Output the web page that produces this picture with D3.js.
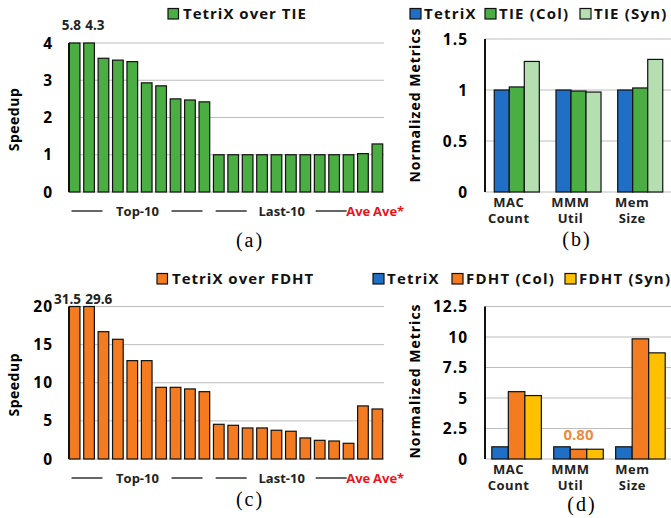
<!DOCTYPE html>
<html>
<head>
<meta charset="utf-8">
<script src="https://cdn.jsdelivr.net/npm/d3@7"></script>
<style>
  body { margin: 0; background: #fff; }
  text { font-family: "Open Sans", sans-serif; font-weight: bold; }
  .cap { font-family: "Liberation Serif", serif; font-weight: normal; letter-spacing: 2px; }
</style>
</head>
<body>
<svg id="chart" width="671" height="518"></svg>
<script>
// speedup data, 20 benchmarks (top-10, last-10) + Ave + Ave*
var tieSpeedup = [5.8, 4.3, 3.59, 3.54, 3.5, 2.93, 2.85, 2.5, 2.47, 2.42,
                  1.0, 1.0, 1.0, 1.0, 1.0, 1.0, 1.0, 1.0, 1.0, 1.0, 1.03, 1.29];
var fdhtSpeedup = [31.5, 29.6, 16.7, 15.7, 12.9, 12.9, 9.4, 9.4, 9.19, 8.83,
                   4.55, 4.42, 4.07, 4.07, 3.77, 3.64, 2.76, 2.45, 2.36, 2.06, 6.96, 6.56];
var tieTicks = [0, 1, 2, 3, 4];
var fdhtTicks = [0, 5, 10, 15, 20];

// normalized metrics
var metrics = ["MAC Count", "MMM Util", "Mem Size"];
var tieSeries = ["TetriX", "TIE (Col)", "TIE (Syn)"];
var tieMetrics = [[1.0, 1.03, 1.28], [1.0, 0.99, 0.98], [1.0, 1.02, 1.3]];
var fdhtSeries = ["TetriX", "FDHT (Col)", "FDHT (Syn)"];
var fdhtMetrics = [[1.0, 5.52, 5.2], [1.0, 0.8, 0.8], [1.0, 9.85, 8.7]];
var tieMetricTicks = [0, 0.5, 1, 1.5];
var fdhtMetricTicks = [0, 2.5, 5, 7.5, 10, 12.5];

var svg = d3.select("#chart");
var grid = "#bdbdbd";

function drawSpeedup(o) {
    var g = svg.append("g");
    var x = d3.scaleBand()
        .domain(d3.range(o.data.length))
        .range([69, 383])
        .paddingInner(0.26)
        .paddingOuter(0.02);
    var y = d3.scaleLinear()
        .domain([0, o.ticks[o.ticks.length - 1]])
        .range([o.base, o.top])
        .clamp(true);

    g.selectAll(".grid").data(o.ticks).enter().append("line")
        .attr("x1", 69).attr("x2", 384)
        .attr("y1", function (d) { return y(d); })
        .attr("y2", function (d) { return y(d); })
        .style("stroke", grid).style("stroke-width", 1);

    g.selectAll(".tick").data(o.ticks).enter().append("text")
        .attr("x", 53)
        .attr("y", function (d) { return y(d) + 5.5; })
        .attr("text-anchor", "end")
        .style("font-size", "15.5px")
        .style("letter-spacing", "1px")
        .text(function (d) { return d; });

    g.selectAll("rect").data(o.data).enter().append("rect")
        .attr("x", function (d, i) { return x(i); })
        .attr("y", function (d) { return y(d); })
        .attr("width", x.bandwidth())
        .attr("height", function (d) { return y(0) - y(d); })
        .style("fill", o.color)
        .style("stroke", "#111")
        .style("stroke-width", 1.2);

    g.append("line")
        .attr("x1", 69).attr("x2", 69)
        .attr("y1", y(0)).attr("y2", y.range()[1])
        .style("stroke", "#111").style("stroke-width", 2);

    // values of clipped bars
    g.append("text")
        .attr("x", x(0) + x.bandwidth() + 1)
        .attr("y", o.valY)
        .attr("text-anchor", "end")
        .style("font-size", "13.5px").style("fill", "#222")
        .text(o.data[0]);
    g.append("text")
        .attr("x", x(1) + 1.5)
        .attr("y", o.valY)
        .style("font-size", "13.5px").style("fill", "#222")
        .text(o.data[1]);

    g.append("text")
        .attr("transform", "translate(19," + ((o.base + o.top) / 2 + 2) + ") rotate(-90)")
        .attr("text-anchor", "middle")
        .style("font-size", "14px")
        .style("letter-spacing", "0.5px")
        .text("Speedup");

    // group labels under the bars
    var ly = o.base + 19;
    [["Top-10", 0, 9], ["Last-10", 10, 19]].forEach(function (grp) {
        var x0 = x(grp[1]), x1 = x(grp[2]) + x.bandwidth();
        var mid = (x0 + x1) / 2;
        g.append("line").attr("x1", mid - 68).attr("x2", mid - 37)
            .attr("y1", ly).attr("y2", ly)
            .style("stroke", "#333").style("stroke-width", 1.5);
        g.append("line").attr("x1", mid + 32).attr("x2", mid + 63)
            .attr("y1", ly).attr("y2", ly)
            .style("stroke", "#333").style("stroke-width", 1.5);
        g.append("text").attr("x", mid - 2).attr("y", ly + 5)
            .attr("text-anchor", "middle")
            .style("font-size", "13px")
            .style("fill", "#222")
            .text(grp[0]);
    });
    g.append("text").attr("x", x(20) + x.bandwidth() + 2).attr("y", ly + 5)
        .attr("text-anchor", "end")
        .style("font-size", "13px").style("fill", "#e8161b")
        .text("Ave");
    g.append("text").attr("x", x(21) + 1).attr("y", ly + 5)
        .style("font-size", "13px").style("fill", "#e8161b")
        .text("Ave*");

    // legend title
    g.append("rect").attr("x", o.legX).attr("y", o.legY - 10.5)
        .attr("width", 10.5).attr("height", 10.5)
        .style("fill", o.color).style("stroke", "#111").style("stroke-width", 1.2);
    g.append("text").attr("x", o.legX + 15).attr("y", o.legY)
        .style("font-size", "15px").style("fill", "#111")
        .style("letter-spacing", "1px")
        .text(o.title);

    g.append("text").attr("class", "cap")
        .attr("x", 250).attr("y", o.capY)
        .attr("text-anchor", "middle")
        .style("font-size", "20px")
        .text(o.cap);
}

function drawMetrics(o) {
    var g = svg.append("g");
    var x0 = d3.scaleBand()
        .domain(metrics)
        .range([485, 672])
        .paddingInner(o.padIn)
        .paddingOuter(o.padOut);
    var x1 = d3.scaleBand()
        .domain(o.series)
        .range([0, x0.bandwidth()]);
    var y = d3.scaleLinear()
        .domain([0, o.ticks[o.ticks.length - 1]])
        .range([o.base, o.top]);

    g.selectAll(".grid").data(o.ticks).enter().append("line")
        .attr("x1", 485).attr("x2", 671)
        .attr("y1", function (d) { return y(d); })
        .attr("y2", function (d) { return y(d); })
        .style("stroke", grid).style("stroke-width", 1);

    g.selectAll(".tick").data(o.ticks).enter().append("text")
        .attr("x", 468)
        .attr("y", function (d) { return y(d) + 5.5; })
        .attr("text-anchor", "end")
        .style("font-size", "15.5px")
        .style("letter-spacing", "1px")
        .text(function (d) { return d; });

    var groups = g.selectAll(".grp").data(o.values).enter().append("g")
        .attr("transform", function (d, i) { return "translate(" + x0(metrics[i]) + ",0)"; });
    groups.selectAll("rect").data(function (d) { return d; }).enter().append("rect")
        .attr("x", function (d, j) { return x1(o.series[j]); })
        .attr("y", function (d) { return y(d); })
        .attr("width", x1.bandwidth())
        .attr("height", function (d) { return y(0) - y(d); })
        .style("fill", function (d, j) { return o.colors[j]; })
        .style("stroke", "#111")
        .style("stroke-width", 1.2);

    g.append("line")
        .attr("x1", 485).attr("x2", 485)
        .attr("y1", y(0)).attr("y2", y.range()[1])
        .style("stroke", "#111").style("stroke-width", 2);

    metrics.forEach(function (m) {
        var parts = m.split(" ");
        var cx = x0(m) + x0.bandwidth() / 2 - 8;
        parts.forEach(function (p, k) {
            g.append("text").attr("x", cx).attr("y", o.base + 14.5 + k * 16.5)
                .attr("text-anchor", "middle")
                .style("font-size", "13px").style("fill", "#222")
                .style("letter-spacing", "0.5px")
                .text(p);
        });
    });

    g.append("text")
        .attr("transform", "translate(420," + o.labY + ") rotate(-90)")
        .attr("text-anchor", "middle")
        .style("font-size", "14px")
        .style("letter-spacing", "1px")
        .text("Normalized Metrics");

    // legend
    o.series.forEach(function (s, j) {
        g.append("rect").attr("x", o.legX[j]).attr("y", o.legY - 10.5)
            .attr("width", 11).attr("height", 10.5)
            .style("fill", o.colors[j]).style("stroke", "#111").style("stroke-width", 1.2);
        g.append("text").attr("x", o.legX[j] + 14).attr("y", o.legY)
            .style("font-size", "15px").style("fill", "#111")
            .style("letter-spacing", "1.2px")
            .text(s);
    });

    if (o.note) {
        var v = o.values[1][1];
        g.append("text")
            .attr("x", x0(metrics[1]) + x0.bandwidth() / 2)
            .attr("y", y(v) - 9)
            .attr("text-anchor", "middle")
            .style("font-size", "15px").style("fill", "#f08a3c")
            .text(v.toFixed(2));
    }

    g.append("text").attr("class", "cap")
        .attr("x", o.capX).attr("y", o.capY)
        .attr("text-anchor", "middle")
        .style("font-size", "20px")
        .text(o.cap);
}

drawSpeedup({
    data: tieSpeedup, ticks: tieTicks, base: 192, top: 43,
    color: "#4aae42", title: "TetriX over TIE", legX: 168, legY: 19,
    valY: 30, cap: "(a)", capY: 247
});
drawSpeedup({
    data: fdhtSpeedup, ticks: fdhtTicks, base: 459, top: 306.5,
    color: "#f47b20", title: "TetriX over FDHT", legX: 157, legY: 284,
    valY: 304, cap: "(c)", capY: 506
});
drawMetrics({
    values: tieMetrics, series: tieSeries, ticks: tieMetricTicks,
    colors: ["#1f6fc6", "#4aae42", "#b5dfb0"],
    base: 192, top: 39, labY: 105, padIn: 0.27, padOut: 0.15,
    legX: [410, 485, 580], legY: 19,
    cap: "(b)", capX: 577, capY: 246
});
drawMetrics({
    values: fdhtMetrics, series: fdhtSeries, ticks: fdhtMetricTicks,
    colors: ["#1f6fc6", "#f47b20", "#ffc000"],
    base: 459, top: 306.5, labY: 381, padIn: 0.2, padOut: 0.11,
    legX: [373, 452, 565], legY: 284, note: true,
    cap: "(d)", capX: 582, capY: 511
});
</script>
</body>
</html>
